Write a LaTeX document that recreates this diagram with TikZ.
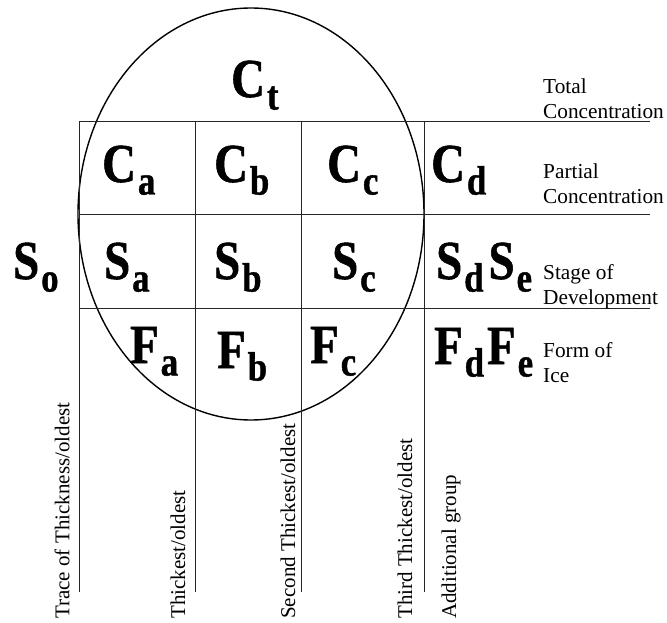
\documentclass[tikz,border=0pt]{standalone}
\usepackage{fontspec}
\setmainfont{Liberation Serif}
\newfontfamily\bigfont[FakeStretch=0.85, BoldFeatures={FakeBold=1}]{Liberation Serif}
\usetikzlibrary{shapes.geometric}
\newcommand\BigSub[2]{#1\kern2pt\raisebox{-12.5pt}{\fontsize{41}{41}\selectfont\bfseries #2}}
\begin{document}
\begin{tikzpicture}[x=1pt,y=-1pt,
  gridline/.style={line width=0.9pt, draw=black!85},
  ring/.style={line width=1.4pt, draw=black},
  big/.style={font=\bigfont\fontsize{55}{55}\selectfont\bfseries, inner sep=0pt, anchor=base west},
  lbl/.style={font=\fontsize{21.3}{25}\selectfont, align=left, anchor=north west, inner sep=0pt},
  vlbl/.style={font=\fontsize{21}{24}\selectfont, rotate=90, anchor=west, inner sep=0pt}]
\useasboundingbox (0,0) rectangle (667,623);

% ellipse
\node[ring, ellipse, minimum width=346pt, minimum height=412pt, inner sep=0pt] (ell) at (251,214) {};

% grid coordinates
\coordinate (h1l) at (79,121); \coordinate (h1r) at (650,121);
\coordinate (h2l) at (79,214); \coordinate (h2r) at (650,214);
\coordinate (h3l) at (79,308); \coordinate (h3r) at (650,308);
\coordinate (v0t) at (79,121);  \coordinate (v0b) at (79,592);
\coordinate (v1t) at (195,121); \coordinate (v1b) at (195,592);
\coordinate (v2t) at (301,121); \coordinate (v2b) at (301,592);
\coordinate (v3t) at (424,121); \coordinate (v3b) at (424,592);

\draw[gridline] (h1l) -- (h1r);
\draw[gridline] (h2l) -- (h2r);
\draw[gridline] (h3l) -- (h3r);
\draw[gridline] (v0t) -- (v0b);
\draw[gridline] (v1t) -- (v1b);
\draw[gridline] (v2t) -- (v2b);
\draw[gridline] (v3t) -- (v3b);

% big symbols
\node[big] (ct) at (231,97) {\BigSub{C}{t}};
\node[big] (ca) at (102,182) {\BigSub{C}{a}};
\node[big] (cb) at (214,182) {\BigSub{C}{b}};
\node[big] (cc) at (327,182) {\BigSub{C}{c}};
\node[big] (cd) at (431,182) {\BigSub{C}{d}};
\node[big] (so) at (13,279) {\BigSub{S}{o}};
\node[big] (sa) at (104,279) {\BigSub{S}{a}};
\node[big] (sb) at (214,279) {\BigSub{S}{b}};
\node[big] (sc) at (332,279) {\BigSub{S}{c}};
\node[big] (sde) at (436,279) {\BigSub{S}{d}\kern5pt\BigSub{S}{e}};
\node[big] (fa) at (130,363) {\BigSub{F}{a}};
\node[big] (fb) at (217,368) {\BigSub{F}{b}};
\node[big] (fc) at (310,363) {\BigSub{F}{c}};
\node[big] (fde) at (434,364) {\BigSub{F}{d}\kern3pt\BigSub{F}{e}};

% right labels
\node[lbl] (ltot) at (543,79) {Total\\Concentration};
\node[lbl] (lpar) at (543,164) {Partial\\Concentration};
\node[lbl] (lstg) at (543,264) {Stage of\\Development};
\node[lbl] (lfrm) at (543,342) {Form of\\Ice};

% vertical labels
\node[vlbl] (vtr) at (62,619) {Trace of Thickness/oldest};
\node[vlbl] (vth) at (178,619) {Thickest/oldest};
\node[vlbl] (vse) at (288,619) {Second Thickest/oldest};
\node[vlbl] (vtd) at (405,619) {Third Thickest/oldest};
\node[vlbl] (vad) at (451,619) {Additional group};
\end{tikzpicture}
\end{document}
